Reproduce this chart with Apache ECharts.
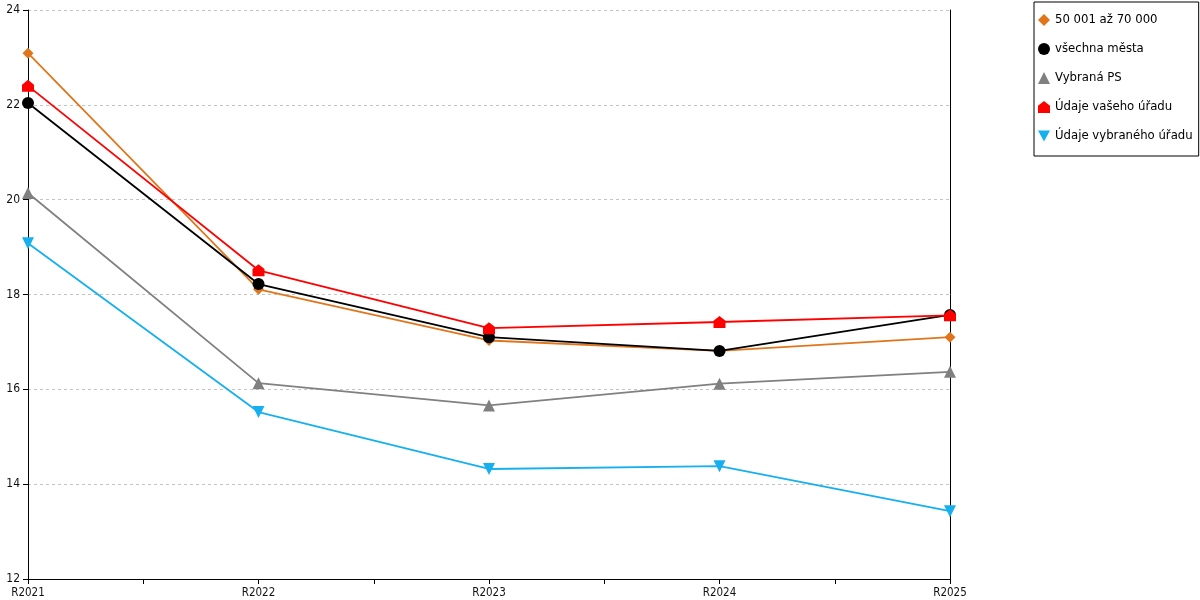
<!DOCTYPE html>
<html>
<head>
<meta charset="utf-8">
<script src="https://cdn.jsdelivr.net/npm/echarts@6/dist/echarts.min.js"></script>
<style>
  html, body { margin: 0; padding: 0; background: #fff; }
  #chart { width: 1200px; height: 600px; }
</style>
</head>
<body>
<div id="chart"></div>
<script>
const categories = ['R2021', 'R2022', 'R2023', 'R2024', 'R2025'];
const yTicks = [12, 14, 16, 18, 20, 22, 24];

const orangeValues = [23.09, 18.11, 17.03, 16.81, 17.10];
const blackValues = [22.04, 18.22, 17.10, 16.81, 17.57];
const grayValues = [20.14, 16.13, 15.66, 16.12, 16.37];
const redValues = [22.40, 18.51, 17.29, 17.42, 17.56];
const blueValues = [19.08, 15.52, 14.32, 14.38, 13.43];

const housePath = 'path://M5,0 L10,4 L10,10 L0,10 L0,4 Z';
const downTriangle = 'path://M0,0 L10,0 L5,9 Z';

const toPoints = (values) => values.map((v, i) => [i, v]);

const makeSeries = (name, values, color, symbol, size) => ({
  name: name,
  type: 'line',
  data: toPoints(values),
  symbol: symbol,
  symbolSize: size,
  showAllSymbol: true,
  color: color,
  lineStyle: { width: 1.8, color: color },
  itemStyle: { color: color },
  emphasis: { disabled: true },
  animation: false
});

const initChart = () => {
  const chart = echarts.init(document.getElementById('chart'));
  const font = '"DejaVu Sans Condensed", "DejaVu Sans"';
  chart.setOption({
    animation: false,
    grid: { left: 28, right: 250, top: 10, bottom: 21 },
    legend: {
      orient: 'vertical',
      left: 1034,
      top: 2,
      padding: [11, 6, 13, 4],
      itemGap: 15,
      itemWidth: 12,
      itemHeight: 12,
      borderColor: '#000',
      borderWidth: 1,
      textStyle: { fontFamily: font, fontSize: 13, lineHeight: 14, color: '#000' },
      data: [
        { name: '50 001 až 70 000', icon: 'diamond' },
        { name: 'všechna města', icon: 'circle' },
        { name: 'Vybraná PS', icon: 'triangle' },
        { name: 'Údaje vašeho úřadu', icon: housePath },
        { name: 'Údaje vybraného úřadu', icon: downTriangle }
      ]
    },
    xAxis: {
      type: 'value',
      min: 0,
      max: categories.length - 1,
      interval: 0.5,
      axisLine: { show: true, lineStyle: { color: '#000', width: 1 } },
      axisTick: { show: true, length: 5, lineStyle: { color: '#000' } },
      splitLine: { show: false },
      axisLabel: {
        margin: 8,
        fontFamily: font,
        fontSize: 11.5,
        color: '#111',
        formatter: (v) => (Number.isInteger(v) ? categories[v] : '')
      }
    },
    yAxis: [
      {
        type: 'value',
        min: yTicks[0],
        max: yTicks[yTicks.length - 1],
        interval: 2,
        axisLine: { show: true, lineStyle: { color: '#000', width: 1 } },
        axisTick: { show: true, length: 5, lineStyle: { color: '#000' } },
        splitLine: { show: true, lineStyle: { color: '#c4c4c4', type: [3, 3] } },
        axisLabel: { margin: 8, fontFamily: font, fontSize: 12, color: '#111' }
      },
      {
        type: 'value',
        position: 'right',
        min: yTicks[0],
        max: yTicks[yTicks.length - 1],
        interval: 2,
        axisLine: { show: true, lineStyle: { color: '#000', width: 1 } },
        axisTick: { show: false },
        axisLabel: { show: false },
        splitLine: { show: false }
      }
    ],
    series: [
      makeSeries('50 001 až 70 000', orangeValues, '#e0761c', 'diamond', 11),
      makeSeries('všechna města', blackValues, '#000000', 'circle', 12),
      makeSeries('Vybraná PS', grayValues, '#808080', 'triangle', 12),
      makeSeries('Údaje vašeho úřadu', redValues, '#ff0000', housePath, 12),
      makeSeries('Údaje vybraného úřadu', blueValues, '#16b0ee', downTriangle, 12)
    ]
  });
};

window.addEventListener('load', () => {
  initChart();
});
</script>
</body>
</html>
